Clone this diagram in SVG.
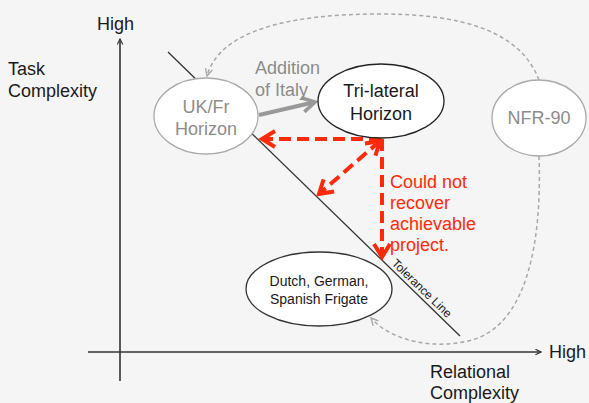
<svg xmlns="http://www.w3.org/2000/svg" width="589" height="403" viewBox="0 0 589 403">
<defs>
<style>
text{font-family:"Liberation Sans",Arial,sans-serif;}
.lbl{font-size:18px;fill:#1a1a1a;}
.gry{fill:#8c8c8c;}
.red{fill:#ff2a0a;font-size:18px;}
.axis{stroke:#333;stroke-width:1.6;fill:none;}
.gdash{stroke:#a8a8a8;stroke-width:1.5;fill:none;stroke-dasharray:4 3;}
.rdash{stroke:#ff2a0a;stroke-width:4;fill:none;stroke-dasharray:12 6;}
</style>
<marker id="ax" viewBox="0 0 10 10" refX="9" refY="5" markerWidth="7" markerHeight="7" orient="auto" markerUnits="userSpaceOnUse"><path d="M1,1 L9,5 L1,9" fill="none" stroke="#333" stroke-width="1.6"/></marker>
<marker id="ga" viewBox="0 0 10 10" refX="9" refY="5" markerWidth="9" markerHeight="9" orient="auto" markerUnits="userSpaceOnUse"><path d="M1,1 L9,5 L1,9" fill="none" stroke="#a8a8a8" stroke-width="1.5"/></marker>
<marker id="gb" viewBox="0 0 10 10" refX="8" refY="5" markerWidth="18" markerHeight="18" orient="auto" markerUnits="userSpaceOnUse"><path d="M1,1 L8,5 L1,9" fill="none" stroke="#999" stroke-width="2"/></marker>
<marker id="ra" viewBox="0 0 10 10" refX="8" refY="5" markerWidth="20" markerHeight="20" orient="auto" markerUnits="userSpaceOnUse"><path d="M1.5,1 L8,5 L1.5,9" fill="none" stroke="#ff2a0a" stroke-width="2"/></marker>
<marker id="rs" viewBox="0 0 10 10" refX="8" refY="5" markerWidth="20" markerHeight="20" orient="auto-start-reverse" markerUnits="userSpaceOnUse"><path d="M1.5,1 L8,5 L1.5,9" fill="none" stroke="#ff2a0a" stroke-width="2"/></marker>
</defs>
<rect width="589" height="403" fill="#f5f5f5"/>
<g id="axes">
<line class="axis" x1="120" y1="381" x2="120" y2="39" marker-end="url(#ax)"/>
<line class="axis" x1="88" y1="352" x2="541" y2="352" marker-end="url(#ax)"/>
<text class="lbl" x="97" y="30" font-size="16">High</text>
<text class="lbl" x="549" y="358">High</text>
<text class="lbl" x="8" y="75">Task</text>
<text class="lbl" x="8" y="97">Complexity</text>
<text class="lbl" x="430" y="378">Relational</text>
<text class="lbl" x="430" y="399">Complexity</text>
</g>
<g id="tolerance">
<line x1="168" y1="52" x2="460" y2="336" stroke="#333" stroke-width="1.3"/>
<text transform="translate(391,264) rotate(44.2)" font-size="12" fill="#1a1a1a">Tolerance Line</text>
</g>
<g id="connectors">
<path class="gdash" d="M539,80 C520,30 460,14 380,14 C290,14 220,30 207,76" marker-end="url(#ga)"/>
<path class="gdash" d="M539,156 C542,240 528,318 478,338 C445,350 395,345 371,318" marker-end="url(#ga)"/>
<line x1="259" y1="115" x2="315" y2="102" stroke="#999" stroke-width="4" marker-end="url(#gb)"/>
<path class="rdash" d="M381,139 L262,139" marker-end="url(#ra)"/>
<path class="rdash" d="M382,139 L382,257" marker-end="url(#ra)"/>
<path class="rdash" d="M380,141 L319,194" marker-start="url(#rs)" marker-end="url(#rs)"/>
</g>
<g id="ukfr">
<ellipse cx="206" cy="116" rx="52" ry="38" fill="#fff" stroke="#aaa" stroke-width="1.3"/>
<text class="lbl gry" x="206" y="113" text-anchor="middle">UK/Fr</text>
<text class="lbl gry" x="206" y="135" text-anchor="middle">Horizon</text>
</g>
<g id="trilateral">
<ellipse cx="381" cy="101" rx="63" ry="37" fill="#fff" stroke="#222" stroke-width="1.3"/>
<text class="lbl" x="381" y="97" text-anchor="middle">Tri-lateral</text>
<text class="lbl" x="381" y="120" text-anchor="middle">Horizon</text>
</g>
<g id="nfr90">
<ellipse cx="539" cy="118" rx="47" ry="38" fill="#fff" stroke="#aaa" stroke-width="1.3"/>
<text class="lbl gry" x="539" y="124" text-anchor="middle">NFR-90</text>
</g>
<g id="frigate">
<ellipse cx="319" cy="289" rx="73" ry="37" fill="#fff" stroke="#333" stroke-width="1.3"/>
<text x="319" y="286" font-size="14" fill="#1a1a1a" text-anchor="middle">Dutch, German,</text>
<text x="319" y="304" font-size="14" fill="#1a1a1a" text-anchor="middle">Spanish Frigate</text>
</g>
<g id="labels">
<text class="lbl gry" x="255" y="74">Addition</text>
<text class="lbl gry" x="255" y="96">of Italy</text>
<text class="red" x="390" y="188">Could not</text>
<text class="red" x="390" y="209">recover</text>
<text class="red" x="390" y="230">achievable</text>
<text class="red" x="390" y="251">project.</text>
</g>
</svg>
